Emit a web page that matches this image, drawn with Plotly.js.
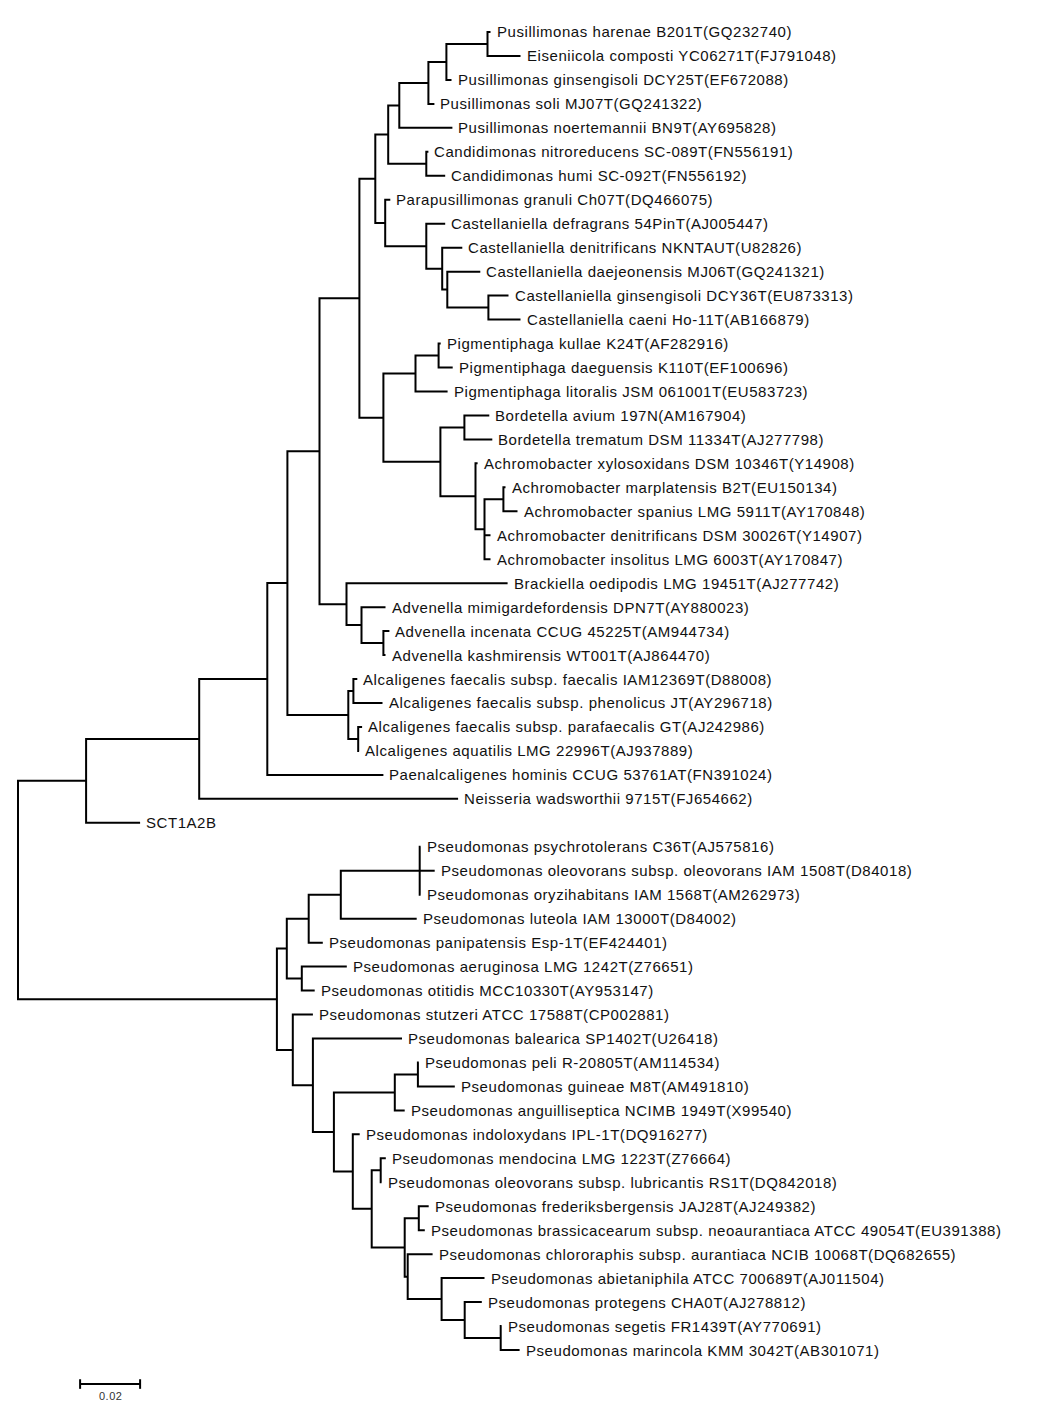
<!DOCTYPE html>
<html><head><meta charset="utf-8">
<script src="https://cdn.plot.ly/plotly-3.0.1.min.js"></script>
<style>
html,body{margin:0;padding:0;background:#fff;}
#chart{width:1051px;height:1414px;}
#chart .annotation-text{letter-spacing:0.55px;}
</style>
</head><body><div id="chart"></div>
<script>
// Leaf labels in display order (index used in the Newick strings below)
const leafNames = [
 "Pusillimonas harenae B201T(GQ232740)",
 "Eiseniicola composti YC06271T(FJ791048)",
 "Pusillimonas ginsengisoli DCY25T(EF672088)",
 "Pusillimonas soli MJ07T(GQ241322)",
 "Pusillimonas noertemannii BN9T(AY695828)",
 "Candidimonas nitroreducens SC-089T(FN556191)",
 "Candidimonas humi SC-092T(FN556192)",
 "Parapusillimonas granuli Ch07T(DQ466075)",
 "Castellaniella defragrans 54PinT(AJ005447)",
 "Castellaniella denitrificans NKNTAUT(U82826)",
 "Castellaniella daejeonensis MJ06T(GQ241321)",
 "Castellaniella ginsengisoli DCY36T(EU873313)",
 "Castellaniella caeni Ho-11T(AB166879)",
 "Pigmentiphaga kullae K24T(AF282916)",
 "Pigmentiphaga daeguensis K110T(EF100696)",
 "Pigmentiphaga litoralis JSM 061001T(EU583723)",
 "Bordetella avium 197N(AM167904)",
 "Bordetella trematum DSM 11334T(AJ277798)",
 "Achromobacter xylosoxidans DSM 10346T(Y14908)",
 "Achromobacter marplatensis B2T(EU150134)",
 "Achromobacter spanius LMG 5911T(AY170848)",
 "Achromobacter denitrificans DSM 30026T(Y14907)",
 "Achromobacter insolitus LMG 6003T(AY170847)",
 "Brackiella oedipodis LMG 19451T(AJ277742)",
 "Advenella mimigardefordensis DPN7T(AY880023)",
 "Advenella incenata CCUG 45225T(AM944734)",
 "Advenella kashmirensis WT001T(AJ864470)",
 "Alcaligenes faecalis subsp. faecalis IAM12369T(D88008)",
 "Alcaligenes faecalis subsp. phenolicus JT(AY296718)",
 "Alcaligenes faecalis subsp. parafaecalis GT(AJ242986)",
 "Alcaligenes aquatilis LMG 22996T(AJ937889)",
 "Paenalcaligenes hominis CCUG 53761AT(FN391024)",
 "Neisseria wadsworthii 9715T(FJ654662)",
 "SCT1A2B",
 "Pseudomonas psychrotolerans C36T(AJ575816)",
 "Pseudomonas oleovorans subsp. oleovorans IAM 1508T(D84018)",
 "Pseudomonas oryzihabitans IAM 1568T(AM262973)",
 "Pseudomonas luteola IAM 13000T(D84002)",
 "Pseudomonas panipatensis Esp-1T(EF424401)",
 "Pseudomonas aeruginosa LMG 1242T(Z76651)",
 "Pseudomonas otitidis MCC10330T(AY953147)",
 "Pseudomonas stutzeri ATCC 17588T(CP002881)",
 "Pseudomonas balearica SP1402T(U26418)",
 "Pseudomonas peli R-20805T(AM114534)",
 "Pseudomonas guineae M8T(AM491810)",
 "Pseudomonas anguilliseptica NCIMB 1949T(X99540)",
 "Pseudomonas indoloxydans IPL-1T(DQ916277)",
 "Pseudomonas mendocina LMG 1223T(Z76664)",
 "Pseudomonas oleovorans subsp. lubricantis RS1T(DQ842018)",
 "Pseudomonas frederiksbergensis JAJ28T(AJ249382)",
 "Pseudomonas brassicacearum subsp. neoaurantiaca ATCC 49054T(EU391388)",
 "Pseudomonas chlororaphis subsp. aurantiaca NCIB 10068T(DQ682655)",
 "Pseudomonas abietaniphila ATCC 700689T(AJ011504)",
 "Pseudomonas protegens CHA0T(AJ278812)",
 "Pseudomonas segetis FR1439T(AY770691)",
 "Pseudomonas marincola KMM 3042T(AB301071)"
];

// Clades (Newick, leaf = index into leafNames, branch lengths in substitutions/site)
const cladePusillimonas   = "(((((0:0.0010,1:0.0110):0.0137,2:0.0017):0.0060,3:0.0020):0.0097,4:0.0177):0.0037,(5:0.0007,6:0.0063):0.0127):0.0043";
const cladeCastellaniella = "(7:0.0017,(8:0.0063,(9:0.0067,(10:0.0110,(11:0.0067,12:0.0107):0.0137):0.0017):0.0053):0.0137):0.0033";
const cladePigmentiphaga  = "((13:0.0007,14:0.0047):0.0077,15:0.0107):0.0107";
const cladeBordetellaAchromobacter = "((16:0.0083,17:0.0093):0.0080,(18:0.0007,((19:0.0007,20:0.0047):0.0063,21:0.0020,22:0.0020):0.0030):0.0117):0.0190";
const cladeAdvenella      = "(23:0.0537,(24:0.0080,(25:0.0020,26:0.0007):0.0073):0.0050):0.0090";
const cladeAlcaligenes    = "((27:0.0013,28:0.0097):0.0017,(29:0.0013,30:0.0003):0.0033):0.0203";
const cladePseudomonasA   = "((((34:0.0003,35:0.0050,36:0.0003):0.0263,37:0.0253):0.0107,38:0.0047):0.0073,(39:0.0150,40:0.0043):0.0050):0.0033";
const cladePseudomonasB   = "((43:0.0003,44:0.0123):0.0077,45:0.0033):0.0203";
const cladePseudomonasC   = "(46:0.0023,((47:0.0017,48:0.0003):0.0030,((49:0.0033,50:0.0020):0.0047,(51:0.0083,(52:0.0143,(53:0.0057,(54:0.0003,55:0.0063):0.0120):0.0077):0.0113):0.0010):0.0110):0.0063):0.0063";

const scaleBarLength = 0.02;
const scaleBarLabel = "0.02";

// Assemble full tree
const upperTree = `(((((((${cladePusillimonas},${cladeCastellaniella}):0.0053,(${cladePigmentiphaga},${cladeBordetellaAchromobacter}):0.0080):0.0133,${cladeAdvenella}):0.0107,${cladeAlcaligenes}):0.0067,31:0.0387):0.0227,32:0.0863):0.0377,33:0.0180):0.0227`;
const lowerTree = `(${cladePseudomonasA},(41:0.0067,(42:0.0297,(${cladePseudomonasB},${cladePseudomonasC}):0.0070):0.0067):0.0053):0.0863`;
const treeNewick = `(${upperTree},${lowerTree});`;

function parseNewick(s){
  let i = 0;
  function node(){
    const n = {children:[], name:"", len:0};
    if (s[i] === "("){
      i++;
      n.children.push(node());
      while (s[i] === ","){ i++; n.children.push(node()); }
      i++; // ')'
    }
    let name = "";
    while (i < s.length && !",):;".includes(s[i])) name += s[i++];
    n.name = name.trim();
    if (s[i] === ":"){
      i++;
      let num = "";
      while (i < s.length && !",);".includes(s[i])) num += s[i++];
      n.len = parseFloat(num);
    }
    return n;
  }
  return node();
}

const root = parseNewick(treeNewick);
root.len = 0;
function place(n, depth){
  n.x = depth + n.len;
  if (!n.children.length){ n.y = parseInt(n.name, 10); }
  else {
    n.children.forEach(c => place(c, n.x));
    n.y = (n.children[0].y + n.children[n.children.length-1].y) / 2;
  }
}
place(root, 0);

const lx = [], ly = [];
const leaves = [];
(function walk(n){
  if (!n.children.length){ leaves.push(n); return; }
  const first = n.children[0], last = n.children[n.children.length-1];
  lx.push(first.x, n.x, n.x, last.x, null);
  ly.push(first.y, first.y, last.y, last.y, null);
  for (let k = 1; k < n.children.length-1; k++){
    const c = n.children[k];
    lx.push(n.x, c.x, null); ly.push(c.y, c.y, null);
  }
  n.children.forEach(walk);
})(root);

const FONT = "Liberation Sans, Arial, Helvetica, sans-serif";
const annotations = leaves.map(l => ({
  x: l.x, y: l.y, xref: "x", yref: "y",
  text: leafNames[parseInt(l.name,10)],
  showarrow: false, xanchor: "left", yanchor: "middle", align: "left", xshift: 4, yshift: 0,
  font: {family: FONT, size: 15, color: "#111"}
}));

// Scale bar
const sbX0 = 0.0207, sbY = 56.42, cap = 0.2;
annotations.push({
  x: sbX0 + scaleBarLength/2, y: sbY, xref: "x", yref: "y",
  text: scaleBarLabel, showarrow: false, xanchor: "center", yanchor: "top", yshift: -4,
  font: {family: FONT, size: 11, color: "#333"}
});

const traces = [
  {type: "scatter", mode: "lines", x: lx, y: ly, hoverinfo: "skip",
   line: {color: "#000", width: 2}, connectgaps: false, showlegend: false},
  {type: "scatter", mode: "lines", hoverinfo: "skip", showlegend: false,
   x: [sbX0, sbX0 + scaleBarLength, null, sbX0, sbX0, null, sbX0 + scaleBarLength, sbX0 + scaleBarLength],
   y: [sbY, sbY, null, sbY - cap, sbY + cap, null, sbY - cap, sbY + cap],
   line: {color: "#000", width: 2}}
];

const layout = {
  width: 1051, height: 1414,
  margin: {l:0, r:0, t:0, b:0},
  paper_bgcolor: "#fff", plot_bgcolor: "#fff",
  xaxis: {range: [-0.006, 0.34433], visible: false, fixedrange: true},
  yaxis: {range: [57.67, -1.335], visible: false, fixedrange: true},
  annotations: annotations,
  showlegend: false
};

Plotly.newPlot("chart", traces, layout, {staticPlot: true, displayModeBar: false});
</script>
</body></html>
